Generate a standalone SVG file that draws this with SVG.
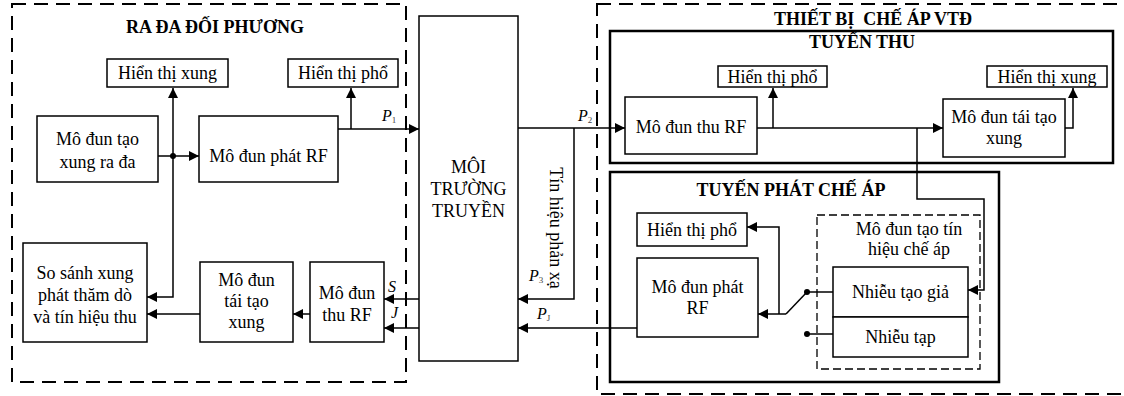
<svg xmlns="http://www.w3.org/2000/svg" width="1124" height="396" viewBox="0 0 1124 396">
<defs>
<style>
text{font-family:"Liberation Serif","Times New Roman",serif;font-size:18px;fill:#000}
.c{text-anchor:middle}
.b{font-weight:bold}
.i{font-style:italic;font-size:16px}
.sub{font-size:9px;fill:#444;font-style:normal}
.box{fill:#fff;stroke:#000;stroke-width:1.5}
.grp{fill:none;stroke:#000;stroke-width:2.5}
.dash{fill:none;stroke:#000;stroke-width:2;stroke-dasharray:14 8}
.dash2{fill:none;stroke:#000;stroke-width:1.3;stroke-dasharray:8 4}
.ln{fill:none;stroke:#000;stroke-width:1.5}
.a{marker-end:url(#ah)}
</style>
<marker id="ah" markerUnits="userSpaceOnUse" markerWidth="11" markerHeight="10" refX="10" refY="5" orient="auto" viewBox="0 0 11 10">
<path d="M0,0 L10,5 L0,10 z" fill="#000"/>
</marker>
</defs>
<rect width="1124" height="396" fill="#fff"/>

<g id="radar-group">
<rect class="dash" x="12" y="4" width="394" height="378"/>
<text class="c b" x="215" y="33">RA ĐA ĐỐI PHƯƠNG</text>
</g>
<g id="jammer-group">
<rect class="dash" x="597" y="4" width="540" height="390"/>
<text class="c b" x="873" y="25" xml:space="preserve">THIẾT BỊ  CHẾ ÁP VTĐ</text>
</g>
<g id="rx-group">
<rect class="grp" x="610" y="31" width="503" height="132"/>
<text class="c b" x="862" y="48">TUYẾN THU</text>
</g>
<g id="tx-group">
<rect class="grp" x="610" y="172" width="389" height="210"/>
<text class="c b" x="791" y="196">TUYẾN PHÁT CHẾ ÁP</text>
</g>

<g id="connectors">
<path class="ln a" d="M158,156 H199"/>
<path class="ln a" d="M173,156 V88"/>
<path class="ln a" d="M173,156 V297 H147"/>
<circle cx="173" cy="156" r="3" fill="#000"/>
<path class="ln a" d="M338,129 H419"/>
<path class="ln a" d="M351,129 V88"/>
<path class="ln a" d="M419,299 H384"/>
<path class="ln a" d="M419,328 H384"/>
<path class="ln a" d="M310,314 H293"/>
<path class="ln a" d="M200,314 H147"/>
<path class="ln a" d="M518,128 H625"/>
<path class="ln a" d="M574,128 V299 H518"/>
<path class="ln a" d="M637,328 H518"/>
<path class="ln a" d="M757,128 H943"/>
<path class="ln a" d="M773,128 V88"/>
<path class="ln a" d="M917,128 V199 H984 V290 H968"/>
<path class="ln a" d="M1065,128 H1073 V88"/>
<path class="ln" d="M807,292 H833"/>
<path class="ln" d="M807,334 H833"/>
<circle cx="807" cy="292" r="3" fill="#000"/>
<circle cx="807" cy="334" r="3" fill="#000"/>
<path class="ln" d="M786,314 L807,292"/>
<path class="ln a" d="M786,314 H758"/>
<path class="ln a" d="M779,314 V227 H747"/>
<text class="i" x="382" y="121">P<tspan class="sub" dy="2">1</tspan></text>
<text class="i" x="578" y="121">P<tspan class="sub" dy="2">2</tspan></text>
<text class="i" x="529" y="281">P<tspan class="sub" dy="2">3</tspan></text>
<text class="i" x="537" y="319">P<tspan class="sub" dy="2">J</tspan></text>
<text class="i" x="388" y="292">S</text>
<text class="i" x="391" y="318">J</text>
<text class="c" transform="translate(550,228) rotate(90)">Tín hiệu phản xạ</text>
</g>

<g id="ht-xung-l">
<rect class="box" x="107" y="59" width="121" height="28"/>
<text class="c" x="167.5" y="79">Hiển thị xung</text>
</g>
<g id="ht-pho-l">
<rect class="box" x="288" y="59" width="110" height="28"/>
<text class="c" x="343" y="79">Hiển thị phổ</text>
</g>
<g id="tao-xung">
<rect class="box" x="37" y="116" width="121" height="66"/>
<text class="c" x="97.5" y="145">Mô đun tạo</text>
<text class="c" x="97.5" y="168">xung ra đa</text>
</g>
<g id="phat-rf-l">
<rect class="box" x="199" y="116" width="139" height="66"/>
<text class="c" x="268.5" y="162">Mô đun phát RF</text>
</g>
<g id="so-sanh">
<rect class="box" x="23" y="243" width="124" height="99"/>
<text class="c" x="85" y="279">So sánh xung</text>
<text class="c" x="85" y="301">phát thăm dò</text>
<text class="c" x="85" y="323">và tín hiệu thu</text>
</g>
<g id="tai-tao-l">
<rect class="box" x="200" y="262" width="93" height="80"/>
<text class="c" x="246.5" y="286">Mô đun</text>
<text class="c" x="246.5" y="307">tái tạo</text>
<text class="c" x="246.5" y="328">xung</text>
</g>
<g id="thu-rf-l">
<rect class="box" x="310" y="262" width="74" height="80"/>
<text class="c" x="347" y="299">Mô đun</text>
<text class="c" x="347" y="321">thu RF</text>
</g>
<g id="moi-truong">
<rect class="box" x="419" y="16" width="99" height="345"/>
<text class="c" x="468.5" y="173">MÔI</text>
<text class="c" x="468.5" y="195">TRƯỜNG</text>
<text class="c" x="468.5" y="217">TRUYỀN</text>
</g>
<g id="ht-pho-r">
<rect class="box" x="718" y="66" width="109" height="21"/>
<text class="c" x="772.5" y="83">Hiển thị phổ</text>
</g>
<g id="ht-xung-r">
<rect class="box" x="987" y="66" width="120" height="21"/>
<text class="c" x="1047" y="83">Hiển thị xung</text>
</g>
<g id="thu-rf-r">
<rect class="box" x="625" y="97" width="132" height="57"/>
<text class="c" x="691" y="133">Mô đun thu RF</text>
</g>
<g id="tai-tao-r">
<rect class="box" x="943" y="99" width="122" height="58"/>
<text class="c" x="1004" y="123">Mô đun tái tạo</text>
<text class="c" x="1004" y="144">xung</text>
</g>
<g id="ht-pho-tx">
<rect class="box" x="637" y="213" width="110" height="33"/>
<text class="c" x="692" y="236">Hiển thị phổ</text>
</g>
<g id="phat-rf-r">
<rect class="box" x="637" y="258" width="121" height="79"/>
<text class="c" x="697.5" y="293">Mô đun phát</text>
<text class="c" x="697.5" y="314">RF</text>
</g>
<g id="tao-tin-hieu">
<rect class="dash2" x="817" y="215" width="163" height="154"/>
<text class="c" x="909" y="235">Mô đun tạo tín</text>
<text class="c" x="909" y="255">hiệu chế áp</text>
</g>
<g id="nhieu-tao-gia">
<rect class="box" x="833" y="267" width="135" height="50"/>
<text class="c" x="900.5" y="298">Nhiễu tạo giả</text>
</g>
<g id="nhieu-tap">
<rect class="box" x="833" y="317" width="135" height="40"/>
<text class="c" x="900.5" y="343">Nhiễu tạp</text>
</g>
</svg>
